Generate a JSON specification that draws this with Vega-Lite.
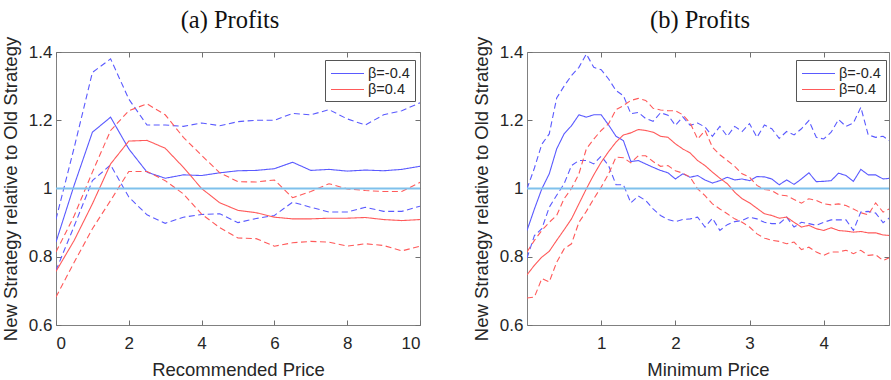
{
  "$schema": "https://vega.github.io/schema/vega-lite/v6.json",
  "background": "white",
  "padding": {"left": 0, "top": 7, "right": 0, "bottom": 0},
  "spacing": 47,
  "config": {
    "font": "Liberation Sans",
    "view": {"stroke": "#808080", "strokeWidth": 1},
    "axis": {"domain": false, "grid": false, "ticks": true, "tickSize": -5, "tickColor": "#707070", "tickWidth": 1, "labelFont": "Liberation Sans", "labelFontSize": 17, "labelColor": "#262626", "titleFont": "Liberation Sans", "titleFontSize": 18.5, "titleFontWeight": "normal", "titleColor": "#262626"},
    "axisX": {"labelPadding": 15.5, "titlePadding": 8.5},
    "axisY": {"labelPadding": 9, "titlePadding": 8},
    "legend": {"orient": "none", "legendX": 269, "legendY": 8, "title": null, "strokeColor": "#555", "fillColor": "white", "padding": 5, "symbolType": "M-1,0H3.4", "symbolSize": 225, "symbolStrokeWidth": 1.2, "labelFont": "Liberation Sans", "labelFontSize": 14.5, "labelColor": "#262626", "labelOffset": 21, "rowPadding": 1},
    "title": {"font": "Liberation Serif", "fontSize": 24.5, "fontWeight": "normal", "color": "#111", "dx": -8, "offset": 3}
  },
  "datasets": {
    "a": [
      {"x":0,"s":"β=-0.4","k":"mean","v":0.843},{"x":0.5,"s":"β=-0.4","k":"mean","v":1.01},{"x":1,"s":"β=-0.4","k":"mean","v":1.165},{"x":1.5,"s":"β=-0.4","k":"mean","v":1.209},{"x":2,"s":"β=-0.4","k":"mean","v":1.116},{"x":2.5,"s":"β=-0.4","k":"mean","v":1.048},{"x":3,"s":"β=-0.4","k":"mean","v":1.03},{"x":3.5,"s":"β=-0.4","k":"mean","v":1.04},{"x":4,"s":"β=-0.4","k":"mean","v":1.038},{"x":4.5,"s":"β=-0.4","k":"mean","v":1.046},{"x":5,"s":"β=-0.4","k":"mean","v":1.052},{"x":5.5,"s":"β=-0.4","k":"mean","v":1.053},{"x":6,"s":"β=-0.4","k":"mean","v":1.058},{"x":6.5,"s":"β=-0.4","k":"mean","v":1.077},{"x":7,"s":"β=-0.4","k":"mean","v":1.053},{"x":7.5,"s":"β=-0.4","k":"mean","v":1.056},{"x":8,"s":"β=-0.4","k":"mean","v":1.051},{"x":8.5,"s":"β=-0.4","k":"mean","v":1.054},{"x":9,"s":"β=-0.4","k":"mean","v":1.052},{"x":9.5,"s":"β=-0.4","k":"mean","v":1.056},{"x":10,"s":"β=-0.4","k":"mean","v":1.065},
      {"x":0,"s":"β=-0.4","k":"upper","v":0.91},{"x":0.5,"s":"β=-0.4","k":"upper","v":1.12},{"x":1,"s":"β=-0.4","k":"upper","v":1.34},{"x":1.5,"s":"β=-0.4","k":"upper","v":1.38},{"x":2,"s":"β=-0.4","k":"upper","v":1.262},{"x":2.5,"s":"β=-0.4","k":"upper","v":1.186},{"x":3,"s":"β=-0.4","k":"upper","v":1.186},{"x":3.5,"s":"β=-0.4","k":"upper","v":1.182},{"x":4,"s":"β=-0.4","k":"upper","v":1.192},{"x":4.5,"s":"β=-0.4","k":"upper","v":1.184},{"x":5,"s":"β=-0.4","k":"upper","v":1.196},{"x":5.5,"s":"β=-0.4","k":"upper","v":1.2},{"x":6,"s":"β=-0.4","k":"upper","v":1.2},{"x":6.5,"s":"β=-0.4","k":"upper","v":1.22},{"x":7,"s":"β=-0.4","k":"upper","v":1.216},{"x":7.5,"s":"β=-0.4","k":"upper","v":1.231},{"x":8,"s":"β=-0.4","k":"upper","v":1.204},{"x":8.5,"s":"β=-0.4","k":"upper","v":1.186},{"x":9,"s":"β=-0.4","k":"upper","v":1.216},{"x":9.5,"s":"β=-0.4","k":"upper","v":1.228},{"x":10,"s":"β=-0.4","k":"upper","v":1.251},
      {"x":0,"s":"β=-0.4","k":"lower","v":0.76},{"x":0.5,"s":"β=-0.4","k":"lower","v":0.89},{"x":1,"s":"β=-0.4","k":"lower","v":1.023},{"x":1.5,"s":"β=-0.4","k":"lower","v":1.069},{"x":2,"s":"β=-0.4","k":"lower","v":0.975},{"x":2.5,"s":"β=-0.4","k":"lower","v":0.923},{"x":3,"s":"β=-0.4","k":"lower","v":0.898},{"x":3.5,"s":"β=-0.4","k":"lower","v":0.916},{"x":4,"s":"β=-0.4","k":"lower","v":0.924},{"x":4.5,"s":"β=-0.4","k":"lower","v":0.926},{"x":5,"s":"β=-0.4","k":"lower","v":0.9},{"x":5.5,"s":"β=-0.4","k":"lower","v":0.912},{"x":6,"s":"β=-0.4","k":"lower","v":0.921},{"x":6.5,"s":"β=-0.4","k":"lower","v":0.96},{"x":7,"s":"β=-0.4","k":"lower","v":0.945},{"x":7.5,"s":"β=-0.4","k":"lower","v":0.931},{"x":8,"s":"β=-0.4","k":"lower","v":0.931},{"x":8.5,"s":"β=-0.4","k":"lower","v":0.945},{"x":9,"s":"β=-0.4","k":"lower","v":0.933},{"x":9.5,"s":"β=-0.4","k":"lower","v":0.933},{"x":10,"s":"β=-0.4","k":"lower","v":0.948},
      {"x":0,"s":"β=0.4","k":"mean","v":0.757},{"x":0.5,"s":"β=0.4","k":"mean","v":0.848},{"x":1,"s":"β=0.4","k":"mean","v":0.955},{"x":1.5,"s":"β=0.4","k":"mean","v":1.072},{"x":2,"s":"β=0.4","k":"mean","v":1.139},{"x":2.5,"s":"β=0.4","k":"mean","v":1.141},{"x":3,"s":"β=0.4","k":"mean","v":1.118},{"x":3.5,"s":"β=0.4","k":"mean","v":1.062},{"x":4,"s":"β=0.4","k":"mean","v":1.0},{"x":4.5,"s":"β=0.4","k":"mean","v":0.958},{"x":5,"s":"β=0.4","k":"mean","v":0.936},{"x":5.5,"s":"β=0.4","k":"mean","v":0.929},{"x":6,"s":"β=0.4","k":"mean","v":0.916},{"x":6.5,"s":"β=0.4","k":"mean","v":0.911},{"x":7,"s":"β=0.4","k":"mean","v":0.911},{"x":7.5,"s":"β=0.4","k":"mean","v":0.913},{"x":8,"s":"β=0.4","k":"mean","v":0.913},{"x":8.5,"s":"β=0.4","k":"mean","v":0.915},{"x":9,"s":"β=0.4","k":"mean","v":0.909},{"x":9.5,"s":"β=0.4","k":"mean","v":0.906},{"x":10,"s":"β=0.4","k":"mean","v":0.909},
      {"x":0,"s":"β=0.4","k":"upper","v":0.814},{"x":0.5,"s":"β=0.4","k":"upper","v":0.92},{"x":1,"s":"β=0.4","k":"upper","v":1.048},{"x":1.5,"s":"β=0.4","k":"upper","v":1.17},{"x":2,"s":"β=0.4","k":"upper","v":1.228},{"x":2.5,"s":"β=0.4","k":"upper","v":1.248},{"x":3,"s":"β=0.4","k":"upper","v":1.216},{"x":3.5,"s":"β=0.4","k":"upper","v":1.15},{"x":4,"s":"β=0.4","k":"upper","v":1.097},{"x":4.5,"s":"β=0.4","k":"upper","v":1.046},{"x":5,"s":"β=0.4","k":"upper","v":1.02},{"x":5.5,"s":"β=0.4","k":"upper","v":1.019},{"x":6,"s":"β=0.4","k":"upper","v":1.025},{"x":6.5,"s":"β=0.4","k":"upper","v":0.973},{"x":7,"s":"β=0.4","k":"upper","v":0.991},{"x":7.5,"s":"β=0.4","k":"upper","v":1.014},{"x":8,"s":"β=0.4","k":"upper","v":0.999},{"x":8.5,"s":"β=0.4","k":"upper","v":0.994},{"x":9,"s":"β=0.4","k":"upper","v":0.991},{"x":9.5,"s":"β=0.4","k":"upper","v":0.991},{"x":10,"s":"β=0.4","k":"upper","v":1.018},
      {"x":0,"s":"β=0.4","k":"lower","v":0.682},{"x":0.5,"s":"β=0.4","k":"lower","v":0.784},{"x":1,"s":"β=0.4","k":"lower","v":0.882},{"x":1.5,"s":"β=0.4","k":"lower","v":0.965},{"x":2,"s":"β=0.4","k":"lower","v":1.05},{"x":2.5,"s":"β=0.4","k":"lower","v":1.05},{"x":3,"s":"β=0.4","k":"lower","v":1.023},{"x":3.5,"s":"β=0.4","k":"lower","v":0.984},{"x":4,"s":"β=0.4","k":"lower","v":0.925},{"x":4.5,"s":"β=0.4","k":"lower","v":0.885},{"x":5,"s":"β=0.4","k":"lower","v":0.855},{"x":5.5,"s":"β=0.4","k":"lower","v":0.853},{"x":6,"s":"β=0.4","k":"lower","v":0.831},{"x":6.5,"s":"β=0.4","k":"lower","v":0.841},{"x":7,"s":"β=0.4","k":"lower","v":0.845},{"x":7.5,"s":"β=0.4","k":"lower","v":0.843},{"x":8,"s":"β=0.4","k":"lower","v":0.831},{"x":8.5,"s":"β=0.4","k":"lower","v":0.838},{"x":9,"s":"β=0.4","k":"lower","v":0.833},{"x":9.5,"s":"β=0.4","k":"lower","v":0.817},{"x":10,"s":"β=0.4","k":"lower","v":0.831}
    ],
    "b": [
      {"x":0,"s":"β=-0.4","k":"mean","v":0.877},{"x":0.1,"s":"β=-0.4","k":"mean","v":0.94},{"x":0.2,"s":"β=-0.4","k":"mean","v":0.999},{"x":0.3,"s":"β=-0.4","k":"mean","v":1.043},{"x":0.4,"s":"β=-0.4","k":"mean","v":1.116},{"x":0.5,"s":"β=-0.4","k":"mean","v":1.16},{"x":0.6,"s":"β=-0.4","k":"mean","v":1.184},{"x":0.7,"s":"β=-0.4","k":"mean","v":1.216},{"x":0.8,"s":"β=-0.4","k":"mean","v":1.209},{"x":0.9,"s":"β=-0.4","k":"mean","v":1.216},{"x":1.0,"s":"β=-0.4","k":"mean","v":1.216},{"x":1.1,"s":"β=-0.4","k":"mean","v":1.186},{"x":1.2,"s":"β=-0.4","k":"mean","v":1.153},{"x":1.3,"s":"β=-0.4","k":"mean","v":1.14},{"x":1.4,"s":"β=-0.4","k":"mean","v":1.079},{"x":1.5,"s":"β=-0.4","k":"mean","v":1.082},{"x":1.6,"s":"β=-0.4","k":"mean","v":1.072},{"x":1.7,"s":"β=-0.4","k":"mean","v":1.062},{"x":1.8,"s":"β=-0.4","k":"mean","v":1.053},{"x":1.9,"s":"β=-0.4","k":"mean","v":1.046},{"x":2.0,"s":"β=-0.4","k":"mean","v":1.028},{"x":2.1,"s":"β=-0.4","k":"mean","v":1.043},{"x":2.2,"s":"β=-0.4","k":"mean","v":1.033},{"x":2.3,"s":"β=-0.4","k":"mean","v":1.038},{"x":2.4,"s":"β=-0.4","k":"mean","v":1.025},{"x":2.5,"s":"β=-0.4","k":"mean","v":1.016},{"x":2.6,"s":"β=-0.4","k":"mean","v":1.023},{"x":2.7,"s":"β=-0.4","k":"mean","v":1.033},{"x":2.8,"s":"β=-0.4","k":"mean","v":1.025},{"x":2.9,"s":"β=-0.4","k":"mean","v":1.028},{"x":3.0,"s":"β=-0.4","k":"mean","v":1.023},{"x":3.1,"s":"β=-0.4","k":"mean","v":1.035},{"x":3.2,"s":"β=-0.4","k":"mean","v":1.034},{"x":3.3,"s":"β=-0.4","k":"mean","v":1.028},{"x":3.4,"s":"β=-0.4","k":"mean","v":1.011},{"x":3.5,"s":"β=-0.4","k":"mean","v":1.025},{"x":3.6,"s":"β=-0.4","k":"mean","v":1.012},{"x":3.7,"s":"β=-0.4","k":"mean","v":1.028},{"x":3.8,"s":"β=-0.4","k":"mean","v":1.046},{"x":3.9,"s":"β=-0.4","k":"mean","v":1.02},{"x":4.0,"s":"β=-0.4","k":"mean","v":1.021},{"x":4.1,"s":"β=-0.4","k":"mean","v":1.023},{"x":4.2,"s":"β=-0.4","k":"mean","v":1.045},{"x":4.3,"s":"β=-0.4","k":"mean","v":1.038},{"x":4.4,"s":"β=-0.4","k":"mean","v":1.021},{"x":4.5,"s":"β=-0.4","k":"mean","v":1.056},{"x":4.6,"s":"β=-0.4","k":"mean","v":1.04},{"x":4.7,"s":"β=-0.4","k":"mean","v":1.04},{"x":4.8,"s":"β=-0.4","k":"mean","v":1.028},{"x":4.9,"s":"β=-0.4","k":"mean","v":1.03},
      {"x":0,"s":"β=-0.4","k":"upper","v":0.999},{"x":0.1,"s":"β=-0.4","k":"upper","v":1.06},{"x":0.2,"s":"β=-0.4","k":"upper","v":1.13},{"x":0.3,"s":"β=-0.4","k":"upper","v":1.16},{"x":0.4,"s":"β=-0.4","k":"upper","v":1.265},{"x":0.5,"s":"β=-0.4","k":"upper","v":1.3},{"x":0.6,"s":"β=-0.4","k":"upper","v":1.331},{"x":0.7,"s":"β=-0.4","k":"upper","v":1.355},{"x":0.8,"s":"β=-0.4","k":"upper","v":1.394},{"x":0.9,"s":"β=-0.4","k":"upper","v":1.355},{"x":1.0,"s":"β=-0.4","k":"upper","v":1.348},{"x":1.1,"s":"β=-0.4","k":"upper","v":1.321},{"x":1.2,"s":"β=-0.4","k":"upper","v":1.287},{"x":1.3,"s":"β=-0.4","k":"upper","v":1.272},{"x":1.4,"s":"β=-0.4","k":"upper","v":1.219},{"x":1.5,"s":"β=-0.4","k":"upper","v":1.223},{"x":1.6,"s":"β=-0.4","k":"upper","v":1.205},{"x":1.7,"s":"β=-0.4","k":"upper","v":1.197},{"x":1.8,"s":"β=-0.4","k":"upper","v":1.222},{"x":1.9,"s":"β=-0.4","k":"upper","v":1.215},{"x":2.0,"s":"β=-0.4","k":"upper","v":1.185},{"x":2.1,"s":"β=-0.4","k":"upper","v":1.21},{"x":2.2,"s":"β=-0.4","k":"upper","v":1.185},{"x":2.3,"s":"β=-0.4","k":"upper","v":1.192},{"x":2.4,"s":"β=-0.4","k":"upper","v":1.18},{"x":2.5,"s":"β=-0.4","k":"upper","v":1.153},{"x":2.6,"s":"β=-0.4","k":"upper","v":1.182},{"x":2.7,"s":"β=-0.4","k":"upper","v":1.153},{"x":2.8,"s":"β=-0.4","k":"upper","v":1.182},{"x":2.9,"s":"β=-0.4","k":"upper","v":1.167},{"x":3.0,"s":"β=-0.4","k":"upper","v":1.19},{"x":3.1,"s":"β=-0.4","k":"upper","v":1.15},{"x":3.2,"s":"β=-0.4","k":"upper","v":1.186},{"x":3.3,"s":"β=-0.4","k":"upper","v":1.175},{"x":3.4,"s":"β=-0.4","k":"upper","v":1.147},{"x":3.5,"s":"β=-0.4","k":"upper","v":1.167},{"x":3.6,"s":"β=-0.4","k":"upper","v":1.157},{"x":3.7,"s":"β=-0.4","k":"upper","v":1.175},{"x":3.8,"s":"β=-0.4","k":"upper","v":1.199},{"x":3.9,"s":"β=-0.4","k":"upper","v":1.15},{"x":4.0,"s":"β=-0.4","k":"upper","v":1.145},{"x":4.1,"s":"β=-0.4","k":"upper","v":1.165},{"x":4.2,"s":"β=-0.4","k":"upper","v":1.202},{"x":4.3,"s":"β=-0.4","k":"upper","v":1.182},{"x":4.4,"s":"β=-0.4","k":"upper","v":1.192},{"x":4.5,"s":"β=-0.4","k":"upper","v":1.238},{"x":4.6,"s":"β=-0.4","k":"upper","v":1.157},{"x":4.7,"s":"β=-0.4","k":"upper","v":1.15},{"x":4.8,"s":"β=-0.4","k":"upper","v":1.153},{"x":4.9,"s":"β=-0.4","k":"upper","v":1.138},
      {"x":0,"s":"β=-0.4","k":"lower","v":0.796},{"x":0.1,"s":"β=-0.4","k":"lower","v":0.862},{"x":0.2,"s":"β=-0.4","k":"lower","v":0.882},{"x":0.3,"s":"β=-0.4","k":"lower","v":0.945},{"x":0.4,"s":"β=-0.4","k":"lower","v":0.98},{"x":0.5,"s":"β=-0.4","k":"lower","v":1.014},{"x":0.6,"s":"β=-0.4","k":"lower","v":1.067},{"x":0.7,"s":"β=-0.4","k":"lower","v":1.082},{"x":0.8,"s":"β=-0.4","k":"lower","v":1.082},{"x":0.9,"s":"β=-0.4","k":"lower","v":1.072},{"x":1.0,"s":"β=-0.4","k":"lower","v":1.095},{"x":1.1,"s":"β=-0.4","k":"lower","v":1.067},{"x":1.2,"s":"β=-0.4","k":"lower","v":1.011},{"x":1.3,"s":"β=-0.4","k":"lower","v":1.011},{"x":1.4,"s":"β=-0.4","k":"lower","v":0.958},{"x":1.5,"s":"β=-0.4","k":"lower","v":0.978},{"x":1.6,"s":"β=-0.4","k":"lower","v":0.965},{"x":1.7,"s":"β=-0.4","k":"lower","v":0.94},{"x":1.8,"s":"β=-0.4","k":"lower","v":0.921},{"x":1.9,"s":"β=-0.4","k":"lower","v":0.909},{"x":2.0,"s":"β=-0.4","k":"lower","v":0.903},{"x":2.1,"s":"β=-0.4","k":"lower","v":0.909},{"x":2.2,"s":"β=-0.4","k":"lower","v":0.911},{"x":2.3,"s":"β=-0.4","k":"lower","v":0.916},{"x":2.4,"s":"β=-0.4","k":"lower","v":0.887},{"x":2.5,"s":"β=-0.4","k":"lower","v":0.913},{"x":2.6,"s":"β=-0.4","k":"lower","v":0.877},{"x":2.7,"s":"β=-0.4","k":"lower","v":0.894},{"x":2.8,"s":"β=-0.4","k":"lower","v":0.903},{"x":2.9,"s":"β=-0.4","k":"lower","v":0.906},{"x":3.0,"s":"β=-0.4","k":"lower","v":0.916},{"x":3.1,"s":"β=-0.4","k":"lower","v":0.911},{"x":3.2,"s":"β=-0.4","k":"lower","v":0.901},{"x":3.3,"s":"β=-0.4","k":"lower","v":0.897},{"x":3.4,"s":"β=-0.4","k":"lower","v":0.897},{"x":3.5,"s":"β=-0.4","k":"lower","v":0.916},{"x":3.6,"s":"β=-0.4","k":"lower","v":0.887},{"x":3.7,"s":"β=-0.4","k":"lower","v":0.901},{"x":3.8,"s":"β=-0.4","k":"lower","v":0.897},{"x":3.9,"s":"β=-0.4","k":"lower","v":0.892},{"x":4.0,"s":"β=-0.4","k":"lower","v":0.901},{"x":4.1,"s":"β=-0.4","k":"lower","v":0.908},{"x":4.2,"s":"β=-0.4","k":"lower","v":0.908},{"x":4.3,"s":"β=-0.4","k":"lower","v":0.908},{"x":4.4,"s":"β=-0.4","k":"lower","v":0.877},{"x":4.5,"s":"β=-0.4","k":"lower","v":0.931},{"x":4.6,"s":"β=-0.4","k":"lower","v":0.933},{"x":4.7,"s":"β=-0.4","k":"lower","v":0.928},{"x":4.8,"s":"β=-0.4","k":"lower","v":0.9},{"x":4.9,"s":"β=-0.4","k":"lower","v":0.916},
      {"x":0,"s":"β=0.4","k":"mean","v":0.747},{"x":0.1,"s":"β=0.4","k":"mean","v":0.775},{"x":0.2,"s":"β=0.4","k":"mean","v":0.799},{"x":0.3,"s":"β=0.4","k":"mean","v":0.816},{"x":0.4,"s":"β=0.4","k":"mean","v":0.848},{"x":0.5,"s":"β=0.4","k":"mean","v":0.879},{"x":0.6,"s":"β=0.4","k":"mean","v":0.911},{"x":0.7,"s":"β=0.4","k":"mean","v":0.955},{"x":0.8,"s":"β=0.4","k":"mean","v":0.999},{"x":0.9,"s":"β=0.4","k":"mean","v":1.04},{"x":1.0,"s":"β=0.4","k":"mean","v":1.077},{"x":1.1,"s":"β=0.4","k":"mean","v":1.108},{"x":1.2,"s":"β=0.4","k":"mean","v":1.136},{"x":1.3,"s":"β=0.4","k":"mean","v":1.157},{"x":1.4,"s":"β=0.4","k":"mean","v":1.163},{"x":1.5,"s":"β=0.4","k":"mean","v":1.173},{"x":1.6,"s":"β=0.4","k":"mean","v":1.17},{"x":1.7,"s":"β=0.4","k":"mean","v":1.165},{"x":1.8,"s":"β=0.4","k":"mean","v":1.153},{"x":1.9,"s":"β=0.4","k":"mean","v":1.15},{"x":2.0,"s":"β=0.4","k":"mean","v":1.131},{"x":2.1,"s":"β=0.4","k":"mean","v":1.116},{"x":2.2,"s":"β=0.4","k":"mean","v":1.104},{"x":2.3,"s":"β=0.4","k":"mean","v":1.082},{"x":2.4,"s":"β=0.4","k":"mean","v":1.067},{"x":2.5,"s":"β=0.4","k":"mean","v":1.048},{"x":2.6,"s":"β=0.4","k":"mean","v":1.03},{"x":2.7,"s":"β=0.4","k":"mean","v":1.014},{"x":2.8,"s":"β=0.4","k":"mean","v":0.989},{"x":2.9,"s":"β=0.4","k":"mean","v":0.97},{"x":3.0,"s":"β=0.4","k":"mean","v":0.958},{"x":3.1,"s":"β=0.4","k":"mean","v":0.942},{"x":3.2,"s":"β=0.4","k":"mean","v":0.926},{"x":3.3,"s":"β=0.4","k":"mean","v":0.921},{"x":3.4,"s":"β=0.4","k":"mean","v":0.913},{"x":3.5,"s":"β=0.4","k":"mean","v":0.916},{"x":3.6,"s":"β=0.4","k":"mean","v":0.901},{"x":3.7,"s":"β=0.4","k":"mean","v":0.887},{"x":3.8,"s":"β=0.4","k":"mean","v":0.892},{"x":3.9,"s":"β=0.4","k":"mean","v":0.882},{"x":4.0,"s":"β=0.4","k":"mean","v":0.877},{"x":4.1,"s":"β=0.4","k":"mean","v":0.885},{"x":4.2,"s":"β=0.4","k":"mean","v":0.877},{"x":4.3,"s":"β=0.4","k":"mean","v":0.875},{"x":4.4,"s":"β=0.4","k":"mean","v":0.872},{"x":4.5,"s":"β=0.4","k":"mean","v":0.874},{"x":4.6,"s":"β=0.4","k":"mean","v":0.87},{"x":4.7,"s":"β=0.4","k":"mean","v":0.87},{"x":4.8,"s":"β=0.4","k":"mean","v":0.864},{"x":4.9,"s":"β=0.4","k":"mean","v":0.862},
      {"x":0,"s":"β=0.4","k":"upper","v":0.814},{"x":0.1,"s":"β=0.4","k":"upper","v":0.848},{"x":0.2,"s":"β=0.4","k":"upper","v":0.877},{"x":0.3,"s":"β=0.4","k":"upper","v":0.901},{"x":0.4,"s":"β=0.4","k":"upper","v":0.921},{"x":0.5,"s":"β=0.4","k":"upper","v":0.97},{"x":0.6,"s":"β=0.4","k":"upper","v":1.0},{"x":0.7,"s":"β=0.4","k":"upper","v":1.043},{"x":0.8,"s":"β=0.4","k":"upper","v":1.116},{"x":0.9,"s":"β=0.4","k":"upper","v":1.145},{"x":1.0,"s":"β=0.4","k":"upper","v":1.17},{"x":1.1,"s":"β=0.4","k":"upper","v":1.19},{"x":1.2,"s":"β=0.4","k":"upper","v":1.231},{"x":1.3,"s":"β=0.4","k":"upper","v":1.243},{"x":1.4,"s":"β=0.4","k":"upper","v":1.258},{"x":1.5,"s":"β=0.4","k":"upper","v":1.264},{"x":1.6,"s":"β=0.4","k":"upper","v":1.258},{"x":1.7,"s":"β=0.4","k":"upper","v":1.235},{"x":1.8,"s":"β=0.4","k":"upper","v":1.23},{"x":1.9,"s":"β=0.4","k":"upper","v":1.228},{"x":2.0,"s":"β=0.4","k":"upper","v":1.228},{"x":2.1,"s":"β=0.4","k":"upper","v":1.216},{"x":2.2,"s":"β=0.4","k":"upper","v":1.192},{"x":2.3,"s":"β=0.4","k":"upper","v":1.145},{"x":2.4,"s":"β=0.4","k":"upper","v":1.17},{"x":2.5,"s":"β=0.4","k":"upper","v":1.121},{"x":2.6,"s":"β=0.4","k":"upper","v":1.099},{"x":2.7,"s":"β=0.4","k":"upper","v":1.082},{"x":2.8,"s":"β=0.4","k":"upper","v":1.065},{"x":2.9,"s":"β=0.4","k":"upper","v":1.043},{"x":3.0,"s":"β=0.4","k":"upper","v":1.033},{"x":3.1,"s":"β=0.4","k":"upper","v":1.009},{"x":3.2,"s":"β=0.4","k":"upper","v":0.997},{"x":3.3,"s":"β=0.4","k":"upper","v":0.994},{"x":3.4,"s":"β=0.4","k":"upper","v":0.981},{"x":3.5,"s":"β=0.4","k":"upper","v":0.979},{"x":3.6,"s":"β=0.4","k":"upper","v":0.968},{"x":3.7,"s":"β=0.4","k":"upper","v":0.957},{"x":3.8,"s":"β=0.4","k":"upper","v":0.97},{"x":3.9,"s":"β=0.4","k":"upper","v":0.965},{"x":4.0,"s":"β=0.4","k":"upper","v":0.955},{"x":4.1,"s":"β=0.4","k":"upper","v":0.952},{"x":4.2,"s":"β=0.4","k":"upper","v":0.955},{"x":4.3,"s":"β=0.4","k":"upper","v":0.95},{"x":4.4,"s":"β=0.4","k":"upper","v":0.94},{"x":4.5,"s":"β=0.4","k":"upper","v":0.929},{"x":4.6,"s":"β=0.4","k":"upper","v":0.923},{"x":4.7,"s":"β=0.4","k":"upper","v":0.958},{"x":4.8,"s":"β=0.4","k":"upper","v":0.931},{"x":4.9,"s":"β=0.4","k":"upper","v":0.942},
      {"x":0,"s":"β=0.4","k":"lower","v":0.679},{"x":0.1,"s":"β=0.4","k":"lower","v":0.682},{"x":0.2,"s":"β=0.4","k":"lower","v":0.736},{"x":0.3,"s":"β=0.4","k":"lower","v":0.726},{"x":0.4,"s":"β=0.4","k":"lower","v":0.784},{"x":0.5,"s":"β=0.4","k":"lower","v":0.823},{"x":0.6,"s":"β=0.4","k":"lower","v":0.838},{"x":0.7,"s":"β=0.4","k":"lower","v":0.901},{"x":0.8,"s":"β=0.4","k":"lower","v":0.933},{"x":0.9,"s":"β=0.4","k":"lower","v":0.97},{"x":1.0,"s":"β=0.4","k":"lower","v":1.004},{"x":1.1,"s":"β=0.4","k":"lower","v":1.043},{"x":1.2,"s":"β=0.4","k":"lower","v":1.092},{"x":1.3,"s":"β=0.4","k":"lower","v":1.09},{"x":1.4,"s":"β=0.4","k":"lower","v":1.075},{"x":1.5,"s":"β=0.4","k":"lower","v":1.096},{"x":1.6,"s":"β=0.4","k":"lower","v":1.096},{"x":1.7,"s":"β=0.4","k":"lower","v":1.079},{"x":1.8,"s":"β=0.4","k":"lower","v":1.065},{"x":1.9,"s":"β=0.4","k":"lower","v":1.067},{"x":2.0,"s":"β=0.4","k":"lower","v":1.052},{"x":2.1,"s":"β=0.4","k":"lower","v":1.045},{"x":2.2,"s":"β=0.4","k":"lower","v":1.033},{"x":2.3,"s":"β=0.4","k":"lower","v":0.999},{"x":2.4,"s":"β=0.4","k":"lower","v":0.979},{"x":2.5,"s":"β=0.4","k":"lower","v":0.955},{"x":2.6,"s":"β=0.4","k":"lower","v":0.94},{"x":2.7,"s":"β=0.4","k":"lower","v":0.926},{"x":2.8,"s":"β=0.4","k":"lower","v":0.911},{"x":2.9,"s":"β=0.4","k":"lower","v":0.901},{"x":3.0,"s":"β=0.4","k":"lower","v":0.887},{"x":3.1,"s":"β=0.4","k":"lower","v":0.867},{"x":3.2,"s":"β=0.4","k":"lower","v":0.855},{"x":3.3,"s":"β=0.4","k":"lower","v":0.848},{"x":3.4,"s":"β=0.4","k":"lower","v":0.845},{"x":3.5,"s":"β=0.4","k":"lower","v":0.838},{"x":3.6,"s":"β=0.4","k":"lower","v":0.843},{"x":3.7,"s":"β=0.4","k":"lower","v":0.821},{"x":3.8,"s":"β=0.4","k":"lower","v":0.828},{"x":3.9,"s":"β=0.4","k":"lower","v":0.814},{"x":4.0,"s":"β=0.4","k":"lower","v":0.804},{"x":4.1,"s":"β=0.4","k":"lower","v":0.814},{"x":4.2,"s":"β=0.4","k":"lower","v":0.814},{"x":4.3,"s":"β=0.4","k":"lower","v":0.819},{"x":4.4,"s":"β=0.4","k":"lower","v":0.809},{"x":4.5,"s":"β=0.4","k":"lower","v":0.819},{"x":4.6,"s":"β=0.4","k":"lower","v":0.804},{"x":4.7,"s":"β=0.4","k":"lower","v":0.806},{"x":4.8,"s":"β=0.4","k":"lower","v":0.789},{"x":4.9,"s":"β=0.4","k":"lower","v":0.799}
    ]
  },
  "hconcat": [
    {
      "width": 364, "height": 273,
      "title": {"text": "(a) Profits"},
      "layer": [
        {
          "data": {"name": "a"},
          "mark": {"type": "line", "strokeWidth": 1.1, "clip": true},
          "encoding": {
            "x": {"field": "x", "type": "quantitative", "scale": {"domain": [0, 10], "nice": false, "zero": false}, "axis": {"values": [0, 2, 4, 6, 8, 10], "title": "Recommended Price"}},
            "y": {"field": "v", "type": "quantitative", "scale": {"domain": [0.6, 1.4], "nice": false, "zero": false}, "axis": {"values": [0.6, 0.8, 1, 1.2, 1.4], "format": "~g", "title": "New Strategy relative to Old Strategy"}},
            "color": {"field": "s", "type": "nominal", "scale": {"domain": ["β=-0.4", "β=0.4"], "range": ["#5a5aff", "#ff5a5a"]}},
            "strokeDash": {"field": "k", "type": "nominal", "scale": {"domain": ["mean", "upper", "lower"], "range": [[1, 0], [6, 3.5], [6, 3.5]]}, "legend": null}
          }
        },
        {
          "data": {"values": [{"ref": 1}]},
          "mark": {"type": "rule", "color": "#7fc1ec", "strokeWidth": 2},
          "encoding": {"y": {"field": "ref", "type": "quantitative", "axis": null}}
        },
        {
          "data": {"name": "a"},
          "mark": {"type": "point", "opacity": 0},
          "encoding": {
            "x": {"field": "x", "type": "quantitative", "axis": {"orient": "top", "labels": false, "title": null, "values": [0, 2, 4, 6, 8, 10]}},
            "y": {"field": "v", "type": "quantitative", "axis": {"orient": "right", "labels": false, "title": null, "values": [0.6, 0.8, 1, 1.2, 1.4]}}
          }
        }
      ],
      "resolve": {"axis": {"x": "independent", "y": "independent"}}
    },
    {
      "width": 362, "height": 273,
      "title": {"text": "(b) Profits"},
      "layer": [
        {
          "data": {"name": "b"},
          "mark": {"type": "line", "strokeWidth": 1.1, "clip": true},
          "encoding": {
            "x": {"field": "x", "type": "quantitative", "scale": {"domain": [0, 4.88], "nice": false, "zero": false}, "axis": {"values": [1, 2, 3, 4], "title": "Minimum Price"}},
            "y": {"field": "v", "type": "quantitative", "scale": {"domain": [0.6, 1.4], "nice": false, "zero": false}, "axis": {"values": [0.6, 0.8, 1, 1.2, 1.4], "format": "~g", "title": "New Strategy relative to Old Strategy"}},
            "color": {"field": "s", "type": "nominal", "scale": {"domain": ["β=-0.4", "β=0.4"], "range": ["#5a5aff", "#ff5a5a"]}},
            "strokeDash": {"field": "k", "type": "nominal", "scale": {"domain": ["mean", "upper", "lower"], "range": [[1, 0], [6, 3.5], [6, 3.5]]}, "legend": null}
          }
        },
        {
          "data": {"values": [{"ref": 1}]},
          "mark": {"type": "rule", "color": "#7fc1ec", "strokeWidth": 2},
          "encoding": {"y": {"field": "ref", "type": "quantitative", "axis": null}}
        },
        {
          "data": {"name": "b"},
          "mark": {"type": "point", "opacity": 0, "clip": true},
          "encoding": {
            "x": {"field": "x", "type": "quantitative", "axis": {"orient": "top", "labels": false, "title": null, "values": [1, 2, 3, 4]}},
            "y": {"field": "v", "type": "quantitative", "axis": {"orient": "right", "labels": false, "title": null, "values": [0.6, 0.8, 1, 1.2, 1.4]}}
          }
        }
      ],
      "resolve": {"axis": {"x": "independent", "y": "independent"}}
    }
  ],
  "resolve": {"scale": {"color": "independent"}, "legend": {"color": "independent"}}
}
